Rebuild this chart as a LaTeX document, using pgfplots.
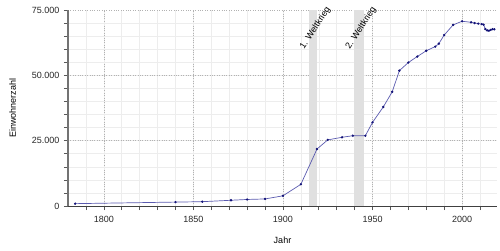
\documentclass[border=0pt]{standalone}
\usepackage{fontspec}
\setmainfont{Liberation Sans}
\usepackage{pgfplots}
\pgfplotsset{compat=1.18}
\definecolor{lineblue}{RGB}{90,90,175}
\definecolor{markblue}{RGB}{20,20,120}
\definecolor{wargray}{RGB}{224,224,224}
\begin{document}
\begin{tikzpicture}
\begin{axis}[
  scale only axis,
  width=429pt, height=196pt,
  xmin=1780, xmax=2019.5,
  ymin=0, ymax=75000,
  axis lines=left,
  axis line style={-, draw=black!75},
  y axis line style={line width=1.5pt, draw=black!55},
  xtick={1800,1850,...,2000},
  minor xtick={1790,1800,...,2010},
  ytick={0,25000,50000,75000},
  minor ytick={5000,10000,...,70000},
  tick align=outside,
  major tick length=4pt, minor tick length=4pt,
  tick style={black!65, line width=0.6pt},
  grid=both,
  major grid style={dotted, black!30, line width=0.5pt},
  minor grid style={solid, black!7, line width=0.5pt},
  /pgf/number format/assume math mode=true,
  /pgf/number format/.cd, 1000 sep={.}, use comma, fixed, /pgfplots/.cd,
  scaled y ticks=false,
  ticklabel style={font=\fontsize{9}{10}\selectfont, text=black!85},
  xticklabel style={/pgf/number format/1000 sep={}, yshift=-3pt},
  yticklabel style={xshift=-1pt},
  xlabel={Jahr}, ylabel={Einwohnerzahl},
  label style={font=\fontsize{9}{10}\selectfont},
  xlabel style={yshift=-7pt},
  ylabel style={yshift=9pt},
  clip=false,
]
\fill[wargray] (axis cs:1914.5,0) rectangle (axis cs:1918.8,75000);
\fill[wargray] (axis cs:1939.5,0) rectangle (axis cs:1945.5,75000);
\addplot[lineblue, line width=0.7pt, mark=*, mark size=0.8pt, mark options={markblue, fill=markblue}] coordinates {
(1784,900) (1840,1500) (1855,1650) (1871,2200) (1880,2500) (1890,2700)
(1900,3900) (1910,8300) (1919,21800) (1925,25300) (1933,26300) (1939,26900)
(1946,26900) (1950,32000) (1956,37900) (1961,43700) (1965,51800) (1970,54900)
(1975,57200) (1980,59400) (1985,61000) (1987,62100) (1990,65400) (1995,69300)
(2000,70700) (2005,70300) (2007,70000) (2009,69800) (2011,69600) (2012,69400)
(2013,67700) (2014,67200) (2015,67100) (2016,67400) (2017,67700) (2018,67600)
};
\node[rotate=57, anchor=east, font=\fontsize{9}{10}\selectfont, inner sep=0pt] at (axis cs:1925.5,75800) {1. Weltkrieg};
\node[rotate=57, anchor=east, font=\fontsize{9}{10}\selectfont, inner sep=0pt] at (axis cs:1951,75800) {2. Weltkrieg};
\end{axis}
\pgfresetboundingbox
\path (-68pt,-44pt) rectangle (432pt,206pt);
\end{tikzpicture}
\end{document}
